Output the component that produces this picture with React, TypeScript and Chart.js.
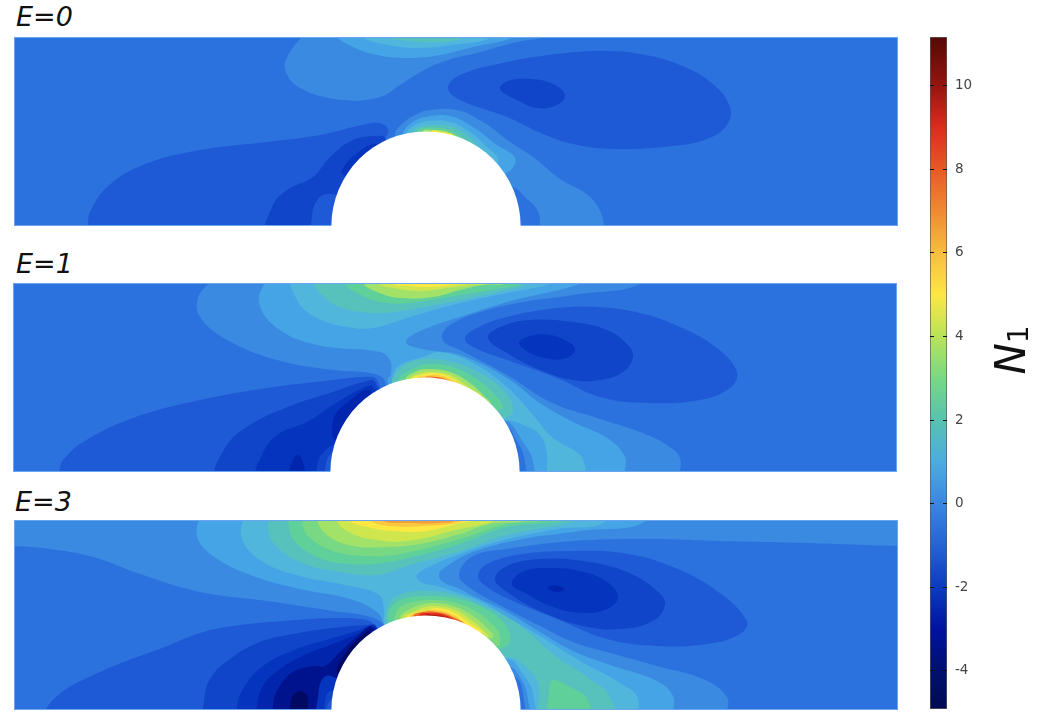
import React, { useEffect, useRef } from "react";
import { Chart, registerables } from "chart.js";

Chart.register(...registerables);

// Contour band index -> fill colour
const bandIndex = [-6, -5, -4, -3, -2, -1, 0, 1, 2, 3, 4, 5, 6, 7, 8, 9, 10, 11, 12, 13, 14, 15];
const bandColor = ["#000a62", "#00138e", "#0225ae", "#0534be", "#1044c9", "#1f5ad6", "#2c72df", "#3a8ae2", "#45a4e6", "#50b6dc", "#57c2bc", "#60d09a", "#78d884", "#a2e268", "#cfe64e", "#fce743", "#f9c740", "#f29f3a", "#ea6b2c", "#dd2e1e", "#a5140f", "#6a0a06"];

type Contour = [number, number[]];

// Each contour: [band, [x, y, x, y, ...]] with x measured from the cylinder centre, y from the lower wall
const contoursE0: Contour[] = [
  [1, [-118,200,-136,174,-141,157,-126,138,-83,126,-46,129,-26,141,0,157,25,167,47,172,91,184,122,189,131,192,130,230,-120,230]],
  [2, [-89,189,-73,179,-49,171,-19,168,14,171,47,179,89,189,100,200,-95,200]],
  [3, [-64,189,-43,182,-9,178,34,182,64,188,70,200,-70,200]],
  [4, [-38,189,-16,185,14,184,37,188,45,200,-45,200]],
  [1, [-31,91,-24,102,-9,112,4,116,31,116,57,104,84,84,107,69,134,47,164,29,177,6,177,-30,114,-30,113,12,97,31,86,39,60,30,0,30,-25,60]],
  [2, [-23,92,-16,102,-1,109,24,110,47,99,71,81,88,70,89,62,82,54,50,40,0,50,-20,70]],
  [3, [-19,93,-11,101,2,105,24,104,44,94,61,79,72,68,70,61,40,50,-18,70]],
  [4, [-14,94,-6,99,6,101,24,100,41,91,54,77,62,67,30,55,-12,75]],
  [5, [-9,95,1,98,14,98,27,95,39,86,51,74,30,60,-8,80]],
  [7, [-3,95,7,96,19,95,32,89,41,81,25,70,-3,80]],
  [9, [6,95,16,94,27,91,15,80]],
  [-1, [-338,-10,-338,2,-336,14,-319,39,-283,61,-226,76,-159,84,-106,91,-59,102,-43,102,-38,94,-60,40,-60,-10]],
  [-2, [-158,-10,-154,19,-139,36,-113,49,-96,69,-73,86,-49,90,-41,88,-40,60,-50,-10]],
  [-1, [-114,-30,-114,10,-110,24,-103,31,-89,31,-70,20,-70,-30]],
  [-3, [-84,52,-80,62,-70,72,-54,82,-48,80,-60,50]],
  [-1, [22,138,34,151,81,164,131,172,174,175,214,172,254,161,287,142,304,119,301,101,281,87,247,80,187,77,147,82,117,92,81,109,34,126]],
  [-2, [74,137,82,145,104,147,127,142,139,131,131,121,111,118,91,126]],
];

const contoursE1: Contour[] = [
  [1, [-212,197,-227,174,-225,155,-198,132,-148,112,-92,102,-55,99,-42,94,-38,85,0,40,60,-30,258,-30,500,-30,500,230,-212,230]],
  [2, [-158,197,-166,170,-148,144,-108,127,-45,120,-35,112,-34,99,-37,89,0,40,60,-30,203,-30,500,-30,500,230,-158,230]],
  [3, [-32,95,-25,107,-2,115,15,120,48,109,82,85,108,57,128,34,155,17,161,0,162,-30,123,-30,122,17,115,37,98,47,80,52,40,50,-30,60]],
  [1, [158,189,82,170,35,155,5,145,-17,134,-18,128,2,122,35,117,82,94,115,69,148,50,182,34,200,15,203,-10,500,-30,500,230,200,230,170,200]],
  [0, [222,192,148,177,98,170,55,160,25,147,17,137,20,129,35,122,82,97,125,70,172,54,215,40,242,27,255,14,258,-10,500,-30,500,230,222,230]],
  [1, [108,-30,108,10,98,30,80,51,60,30,60,-30]],
  [0, [100,-30,99,15,90,34,83,44,60,30,60,-30]],
  [3, [-132,200,-128,172,-108,154,-78,145,-52,144,-18,154,35,169,82,179,128,189,140,200]],
  [4, [-112,189,-103,177,-85,165,-52,159,-18,162,35,172,82,182,105,189,115,200,-118,200]],
  [5, [-82,189,-68,179,-45,170,-15,169,35,177,65,182,98,189,105,200,-90,200]],
  [7, [-63,189,-48,180,-25,174,8,175,35,182,58,187,82,189,90,200,-70,200]],
  [8, [-48,189,-32,184,-5,181,22,184,45,187,65,189,72,200,-55,200]],
  [9, [-35,189,-15,186,8,185,35,188,45,189,50,200,-40,200]],
  [4, [-33,90,-28,100,-17,109,2,113,28,110,55,99,78,82,88,65,83,55,40,45,-25,65]],
  [5, [-27,91,-20,99,-8,105,5,108,27,105,50,94,70,77,77,64,30,50,-22,70]],
  [7, [-20,92,-12,99,2,103,25,100,45,89,60,75,65,69,30,55,-18,75]],
  [8, [-15,93,-7,98,5,100,25,97,42,86,57,74,30,60,-13,78]],
  [9, [-12,94,-3,97,8,99,25,95,40,84,52,75,30,62,-10,80]],
  [10, [-7,94,2,96,12,97,25,93,38,83,25,68,-6,82]],
  [11, [0,95,12,95,25,91,35,85,20,72,0,82]],
  [12, [7,94,17,94,27,89,32,86,20,75,7,85]],
  [-1, [-365,-6,-365,4,-362,12,-342,30,-292,54,-225,72,-158,84,-92,92,-62,95,-48,92,-40,50,-60,-10]],
  [-2, [-207,-6,-200,24,-175,47,-132,67,-92,80,-62,90,-50,90,-40,50,-60,-10]],
  [-3, [-167,-6,-163,17,-148,37,-118,50,-92,67,-62,84,-52,85,-40,50,-60,-10]],
  [-4, [-92,35,-93,42,-90,57,-78,69,-58,82,-50,70,-75,40,-85,30]],
  [-2, [-108,-30,-107,10,-97,24,-88,27,-70,10,-70,-30]],
  [-1, [-100,-30,-99,8,-92,19,-70,10,-70,-30]],
  [-4, [-135,-6,-133,10,-127,17,-122,10,-121,-6]],
  [-1, [40,134,52,144,82,155,132,164,172,165,215,159,255,145,292,124,312,100,305,84,275,72,222,69,175,75,132,94,82,112,48,125]],
  [-2, [63,134,75,145,105,152,148,150,182,142,203,127,208,115,198,100,175,92,148,92,115,102,82,119]],
  [-3, [94,129,105,136,125,137,145,129,150,122,142,114,125,113,105,119]],
];

const contoursE3: Contour[] = [
  [1, [-440,165,-413,164,-376,161,-333,153,-286,136,-226,118,-159,109,-93,99,-59,94,-43,86,0,40,60,-30,304,-30,520,-30,520,230,-440,230]],
  [2, [-225,200,-229,174,-213,154,-173,134,-126,121,-76,111,-49,98,-41,86,0,40,60,-30,251,-30,520,-30,520,230,-225,230]],
  [3, [-182,200,-184,171,-163,148,-126,134,-76,124,-47,115,-42,100,-41,84,0,40,60,-30,217,-30,520,-30,520,230,-184,230]],
  [4, [-40,86,-36,108,-21,117,4,119,34,114,57,104,77,96,101,79,127,56,161,33,184,13,191,-30,114,-30,113,23,104,39,82,53,40,40,-30,60]],
  [2, [181,190,131,181,74,169,34,156,7,145,-9,135,-5,128,14,123,54,109,81,93,114,74,154,49,191,29,211,14,217,-10,520,-30,520,230,181,230]],
  [1, [221,190,154,179,97,171,47,158,21,144,13,136,17,128,34,121,47,114,81,98,114,78,147,59,187,44,231,29,247,14,251,-10,520,-30,520,230,221,230]],
  [0, [520,163,472,164,381,167,297,169,221,171,147,169,81,161,47,154,33,136,41,124,81,101,114,84,147,68,181,58,231,44,277,31,301,13,304,-10,520,-30]],
  [5, [124,-30,123,20,127,30,144,23,161,11,168,-30]],
  [2, [107,-30,107,16,97,36,82,51,60,30,60,-30]],
  [1, [102,-30,101,16,92,36,84,43,60,30,60,-30]],
  [0, [97,-30,97,16,89,33,60,30,60,-30]],
  [4, [-158,189,-154,169,-126,148,-86,138,-49,135,-19,144,34,159,81,175,154,190,170,200,-155,200]],
  [5, [-138,189,-133,171,-109,153,-76,146,-43,147,-9,154,34,166,81,183,141,190,150,200,-140,200]],
  [6, [-124,189,-118,174,-93,159,-59,154,-26,156,34,171,81,186,121,190,130,200,-125,200]],
  [7, [-109,189,-98,174,-73,164,-39,163,-6,166,34,176,64,186,104,190,110,200,-110,200]],
  [8, [-89,189,-79,179,-56,171,-19,169,34,181,71,190,80,200,-92,200]],
  [8, [-83,189,-69,181,-43,175,-6,174,34,184,57,190,65,200,-88,200]],
  [9, [-76,189,-59,183,-33,179,1,179,34,187,47,190,55,200,-80,200]],
  [10, [-56,189,-36,184,-3,184,34,188,40,195,-60,195]],
  [11, [-43,189,-16,187,14,187,30,190,30,198,-45,198]],
  [5, [-38,93,-34,104,-23,111,1,114,27,112,54,104,77,88,84,74,81,64,30,50,-30,70]],
  [6, [-31,93,-26,103,-13,108,4,110,27,108,51,98,69,83,74,73,72,64,30,55,-28,72]],
  [7, [-26,93,-18,100,-6,105,7,107,27,104,47,94,62,81,67,73,30,58,-24,75]],
  [8, [-23,93,-13,98,-1,103,9,104,27,101,44,91,59,78,62,73,30,60,-21,78]],
  [9, [-19,93,-9,98,1,100,11,102,27,98,42,88,56,76,30,62,-18,80]],
  [10, [-16,94,-6,98,9,100,27,95,41,85,51,78,30,65,-15,80]],
  [12, [-13,94,-3,98,11,98,27,93,39,84,25,68,-12,82]],
  [13, [-7,95,4,97,16,96,29,90,36,85,22,72,-7,84]],
  [14, [-1,95,7,95,19,93,27,88,18,75,-1,85]],
  [-1, [-379,-6,-369,14,-326,38,-259,64,-226,77,-193,84,-143,89,-93,92,-59,90,-51,84,-40,50,-60,-10]],
  [-2, [-223,-30,-222,8,-216,31,-196,51,-166,68,-133,76,-93,82,-59,85,-50,84,-40,50,-60,-30]],
  [-3, [-189,-30,-189,2,-183,21,-163,44,-129,61,-96,71,-69,79,-51,84,-40,50,-60,-30]],
  [-4, [-169,-30,-169,4,-163,24,-146,41,-119,56,-93,66,-69,76,-51,83,-40,50,-60,-30]],
  [-5, [-153,-30,-153,4,-148,21,-133,38,-113,44,-101,44,-86,58,-69,73,-54,83,-40,50,-60,-30]],
  [-6, [-89,38,-83,53,-71,68,-56,79,-60,60,-80,30]],
  [-6, [-136,-30,-136,3,-133,14,-126,19,-119,14,-118,3,-118,-30]],
  [-3, [-108,-30,-107,21,-102,33,-95,34,-70,20,-70,-30]],
  [-2, [-101,-30,-100,14,-94,19,-70,15,-70,-30]],
  [-1, [-96,-30,-96,10,-70,10,-70,-30]],
  [-1, [52,134,61,146,97,156,147,159,197,157,247,143,291,119,321,89,314,76,281,66,231,64,181,71,131,91,87,109,61,123]],
  [-2, [69,131,81,144,114,151,157,149,201,138,231,119,239,106,227,89,194,81,157,84,114,99,81,118]],
  [-3, [86,126,96,138,121,142,154,139,181,128,192,113,181,101,157,97,127,103,101,116]],
  [-4, [122,122,129,125,138,121,131,118]],
];

// Colour bar
const barMin = -4.91;
const barMax = 11.16;
const barStops = [-4.91, -4, -3, -2, -1, 0, 1, 2, 3, 4, 5, 6, 7, 8, 9, 10, 11.16];
const barColors = ["#000a52", "#00106e", "#0012a0", "#0c3bbf", "#2563d3", "#3a86e2", "#4cacdf", "#57c2b0", "#78d884", "#b9e35a", "#fde745", "#f7bd40", "#ef8a33", "#e65a26", "#dc2b1e", "#951510", "#550905"];

const panels = [
  { title: "E=0", contours: contoursE0, left: 14, top: 37, width: 884, height: 189, xMin: -412, titleLeft: 16, titleTop: -1 },
  { title: "E=1", contours: contoursE1, left: 13, top: 283, width: 884, height: 189, xMin: -412, titleLeft: 16, titleTop: 246 },
  { title: "E=3", contours: contoursE3, left: 14, top: 520, width: 884, height: 190, xMin: -412, titleLeft: 15, titleTop: 484 },
];

const colorOf = (band: number) => bandColor[bandIndex.indexOf(band)];

const contourFill = {
  id: "contourFill",
  beforeDatasetsDraw(chart: any) {
    const { ctx, chartArea: a } = chart;
    ctx.save();
    ctx.fillStyle = colorOf(0);
    ctx.fillRect(a.left, a.top, a.width, a.height);
    ctx.restore();
    chart.getSortedVisibleDatasetMetas().forEach((meta: any) => {
      const line = meta.dataset;
      if (!line || !chart.data.datasets[meta.index].isContour) return;
      line._loop = true;
      line._fullLoop = true;
      delete line._segments;
      line._pointsUpdated = false;
      line.updateControlPoints(a, "x");
    });
  },
  beforeDatasetDraw(chart: any, args: any) {
    const ds = chart.data.datasets[args.index];
    const { ctx, chartArea: a } = chart;
    if (!ds.isContour) {
      ctx.save();
      ctx.strokeStyle = "#6aa6ee";
      ctx.lineWidth = 1;
      ctx.strokeRect(a.left + 0.5, a.top + 0.5, a.width - 1, a.height - 1);
      ctx.restore();
      return true;
    }
    ctx.save();
    ctx.beginPath();
    ctx.rect(a.left, a.top, a.width, a.height);
    ctx.clip();
    ctx.beginPath();
    args.meta.dataset.path(ctx);
    ctx.closePath();
    ctx.fillStyle = ds.backgroundColor;
    ctx.fill();
    ctx.restore();
    return false;
  },
};

function Panel({ p }: { p: (typeof panels)[number] }) {
  const ref = useRef<HTMLCanvasElement>(null);
  useEffect(() => {
    const datasets: any[] = p.contours.map(([band, flat], i) => {
      const data = [];
      for (let k = 0; k < flat.length; k += 2) data.push({ x: flat[k], y: flat[k + 1] });
      return {
        isContour: true,
        data,
        order: -i,
        backgroundColor: colorOf(band),
        borderWidth: 0,
        pointRadius: 0,
        tension: 0.4,
        capBezierPoints: false,
      };
    });
    datasets.push({
      isContour: false,
      data: [{ x: 0, y: 0 }],
      order: -1000,
      showLine: false,
      pointRadius: 94.6,
      pointBackgroundColor: "#ffffff",
      pointBorderWidth: 0,
    });
    const chart = new Chart(ref.current!, {
      type: "line",
      data: { datasets },
      options: {
        animation: false,
        responsive: false,
        layout: { padding: 0, autoPadding: false },
        plugins: { legend: { display: false }, tooltip: { enabled: false } },
        scales: {
          x: { type: "linear", display: false, min: p.xMin, max: p.xMin + p.width },
          y: { type: "linear", display: false, min: 0, max: p.height },
        },
      },
      plugins: [contourFill],
    } as any);
    return () => chart.destroy();
  }, []);
  return (
    <canvas
      ref={ref}
      width={p.width}
      height={p.height}
      style={{ position: "absolute", left: p.left, top: p.top, width: p.width, height: p.height, display: "block" }}
    />
  );
}

function ColorBar() {
  const ref = useRef<HTMLCanvasElement>(null);
  useEffect(() => {
    const chart = new Chart(ref.current!, {
      type: "bar",
      data: {
        labels: ["N1"],
        datasets: [
          {
            data: [[barMin, barMax]],
            barPercentage: 1,
            categoryPercentage: 1,
            borderWidth: 1,
            borderColor: "#5a5a5a",
            borderSkipped: false,
            backgroundColor: (c: any) => {
              const ch = c.chart;
              const y = ch.scales.y;
              if (!ch.chartArea || !y) return "#3a86e2";
              const y0 = y.getPixelForValue(barMin);
              const y1 = y.getPixelForValue(barMax);
              const g = ch.ctx.createLinearGradient(0, y0, 0, y1);
              barStops.forEach((v, i) => g.addColorStop((v - barMin) / (barMax - barMin), barColors[i]));
              return g;
            },
          },
        ],
      },
      options: {
        animation: false,
        responsive: false,
        layout: { autoPadding: false },
        plugins: { legend: { display: false }, tooltip: { enabled: false } },
        scales: {
          x: { display: false },
          y: {
            position: "right",
            min: barMin,
            max: barMax,
            afterFit: (s: any) => {
              s.width = 47;
              s.paddingTop = 0;
              s.paddingBottom = 0;
            },
            ticks: {
              stepSize: 2,
              includeBounds: false,
              color: "#444444",
              padding: 8,
              font: { family: "DejaVu Sans", size: 13.5 },
            },
            border: { display: false, dash: [4, 9, 4] },
            grid: { color: "#111111", drawTicks: false, tickLength: 0, z: 1 },
          },
        },
      },
    } as any);
    return () => chart.destroy();
  }, []);
  return (
    <canvas
      ref={ref}
      width={64}
      height={672}
      style={{ position: "absolute", left: 930, top: 37, width: 64, height: 672, display: "block" }}
    />
  );
}

export default function App() {
  return (
    <div style={{ position: "absolute", left: 0, top: 0, width: 1040, height: 722, overflow: "hidden", background: "#fff" }}>
      {panels.map((p) => (
        <div
          key={p.title}
          style={{
            position: "absolute",
            left: p.titleLeft,
            top: p.titleTop,
            fontFamily: "'DejaVu Sans'",
            fontStyle: "italic",
            fontSize: 27,
            lineHeight: "36px",
            color: "#111",
          }}
        >
          {p.title}
        </div>
      ))}
      {panels.map((p) => (
        <Panel key={p.title} p={p} />
      ))}
      <ColorBar />
      <div
        style={{
          position: "absolute",
          left: 985,
          top: 325,
          width: 50,
          height: 50,
          display: "flex",
          alignItems: "center",
          justifyContent: "center",
          transform: "rotate(-90deg)",
          fontFamily: "'DejaVu Sans'",
          color: "#111",
          whiteSpace: "nowrap",
        }}
      >
        <span style={{ fontStyle: "italic", fontSize: 42 }}>N</span>
        <span style={{ fontSize: 28, position: "relative", top: 8 }}>1</span>
      </div>
    </div>
  );
}
